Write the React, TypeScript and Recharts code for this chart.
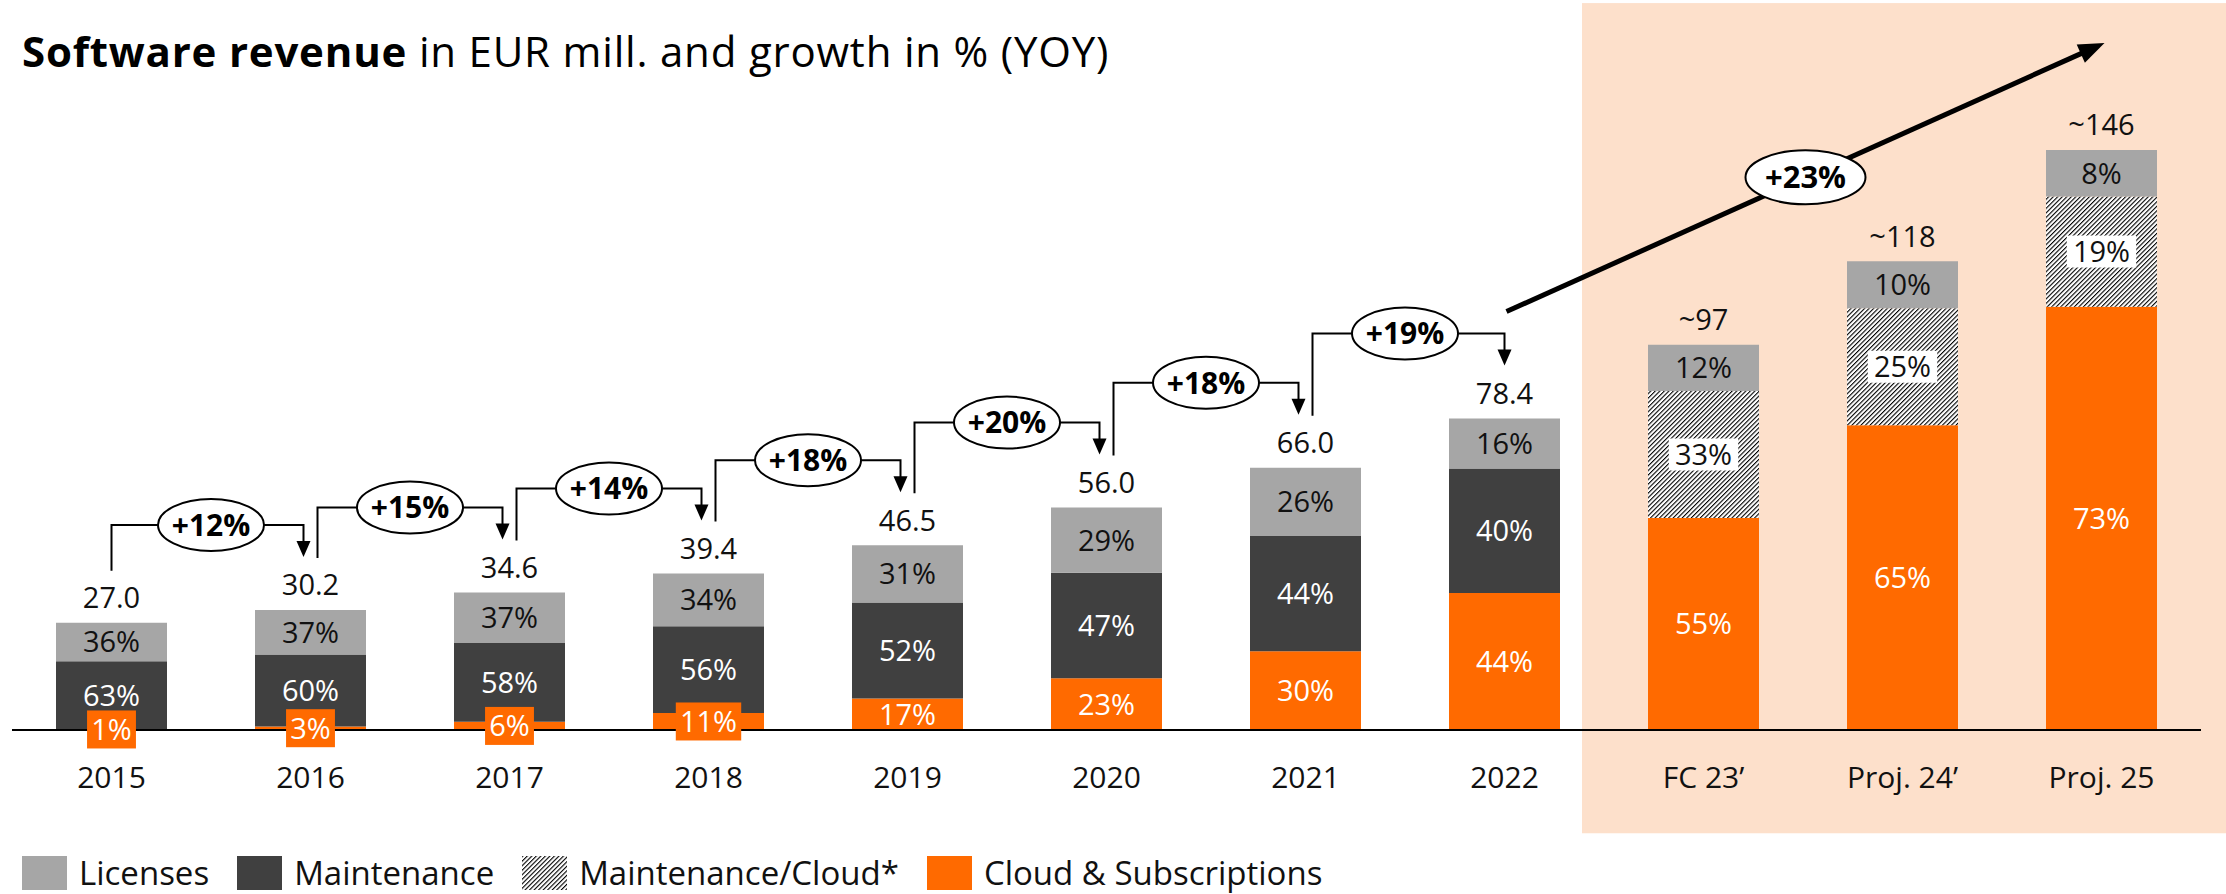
import { ComposedChart, Bar, Line, XAxis, YAxis, ReferenceArea, LabelList, Legend } from "recharts";

const FONT = "'Open Sans', sans-serif";

// categories + values
const categories = ["2015", "2016", "2017", "2018", "2019", "2020", "2021", "2022", "FC 23’", "Proj. 24’", "Proj. 25"];
const totals = [27.0, 30.2, 34.6, 39.4, 46.5, 56.0, 66.0, 78.4, 97, 118, 146];
const totalLabels = ["27.0", "30.2", "34.6", "39.4", "46.5", "56.0", "66.0", "78.4", "~97", "~118", "~146"];
const cloudPct = [1, 3, 6, 11, 17, 23, 30, 44, 55, 65, 73];
const maintenancePct = [63, 60, 58, 56, 52, 47, 44, 40, 0, 0, 0];
const maintCloudPct = [0, 0, 0, 0, 0, 0, 0, 0, 33, 25, 19];
const licensesPct = [36, 37, 37, 34, 31, 29, 26, 16, 12, 10, 8];
const growthLabels = ["+12%", "+15%", "+14%", "+18%", "+20%", "+18%", "+19%"];
const cagrLabel = "+23%";
const cagrFrom = 7;
const cagrTo = 10;

const ORANGE = "#FF6A00";
const DARK = "#404040";
const LIGHT = "#A6A6A6";
const PEACH = "#FDE0CB";

const legendItems = [
  { name: "Licenses", fill: LIGHT },
  { name: "Maintenance", fill: DARK },
  { name: "Maintenance/Cloud*", fill: "url(#hatch)" },
  { name: "Cloud & Subscriptions", fill: ORANGE },
];

// split each total by its shares so the stack ends at the total
const data = categories.map((name, i) => {
  const sum = cloudPct[i] + maintenancePct[i] + maintCloudPct[i] + licensesPct[i];
  const k = totals[i] / sum;
  return {
    name,
    total: totals[i],
    totalLabel: totalLabels[i],
    cloud: cloudPct[i] * k,
    maintenance: maintenancePct[i] * k,
    maintCloud: maintCloudPct[i] * k,
    licenses: licensesPct[i] * k,
    cloudPct: cloudPct[i],
    maintenancePct: maintenancePct[i],
    maintCloudPct: maintCloudPct[i],
    licensesPct: licensesPct[i],
  };
});

const LBL = 29;

function textW(t: string, fs: number) {
  let w = 0;
  for (const c of t) w += c === "%" ? 0.84 : c === "~" ? 0.57 : c === "." ? 0.27 : 0.57;
  return w * fs;
}

function box(p: any) {
  const vb = p.viewBox || {};
  const x = Number(p.x ?? vb.x);
  const y = Number(p.y ?? vb.y);
  const w = Number(p.width ?? vb.width);
  const h = Number(p.height ?? vb.height);
  return { x, y, w, h };
}

const segLabel = (kind: string) => (p: any) => {
  const pct = Number(p.value);
  if (!pct) return null;
  const { x, y, w, h } = box(p);
  const cx = x + w / 2;
  const cy = y + h / 2;
  const t = `${pct}%`;
  const tw = textW(t, LBL);
  let bg = null;
  let fill = "#fff";
  if (kind === "cloud" && h < 28) {
    bg = <rect x={cx - tw / 2 - 4} y={cy - 19} width={tw + 8} height={38} fill={ORANGE} />;
  }
  if (kind === "hatch") {
    bg = <rect x={cx - tw / 2 - 6} y={cy - 16} width={tw + 12} height={32} fill="#fff" />;
    fill = "#111";
  }
  if (kind === "lic") fill = "#111";
  return (
    <g key={`${kind}-${p.index}`}>
      {bg}
      <text x={cx} y={cy} dy="0.36em" textAnchor="middle" fontFamily={FONT} fontSize={LBL} fill={fill}>
        {t}
      </text>
    </g>
  );
};

const totalLabel = (p: any) => {
  const { x, y, w } = box(p);
  return (
    <text key={`tot-${p.index}`} x={x + w / 2} y={y - 25} dy="0.36em" textAnchor="middle" fontFamily={FONT} fontSize={LBL} fill="#111">
      {p.value}
    </text>
  );
};

// growth connectors drawn from the line points (one per bar pair)
function Connector(props: any) {
  const { index, points } = props;
  if (!points || index == null) return <g key={`c-${index}`} />;
  const parts: any[] = [];
  const n = growthLabels.length;
  if (index < n && points[index + 1]) {
    const a = points[index];
    const b = points[index + 1];
    const x0 = a.x + (index > 0 ? 7 : 0);
    const x1 = b.x - (index < n - 1 ? 7 : 0);
    const y0 = a.y - 52;
    const yl = b.y - 85;
    const yt = b.y - 53;
    const ex = (a.x + b.x) / 2;
    parts.push(<path key="p" d={`M${x0},${y0}V${yl}H${x1}V${yt - 14}`} stroke="#000" strokeWidth={2} fill="none" />);
    parts.push(<polygon key="h" points={`${x1 - 7},${yt - 16} ${x1 + 7},${yt - 16} ${x1},${yt}`} fill="#000" />);
    parts.push(<ellipse key="e" cx={ex} cy={yl} rx={53} ry={26} fill="#fff" stroke="#000" strokeWidth={2} />);
    parts.push(
      <text key="t" x={ex} y={yl} dy="0.36em" textAnchor="middle" fontFamily={FONT} fontWeight={700} fontSize={30} fill="#000">
        {growthLabels[index]}
      </text>
    );
  }
  if (index === cagrFrom && points[cagrTo]) {
    const a = points[cagrFrom];
    const b = points[cagrTo];
    const sx = a.x + 2, sy = a.y - 107, ex = b.x + 3, ey = b.y - 107;
    const len = Math.hypot(ex - sx, ey - sy);
    const ux = (ex - sx) / len, uy = (ey - sy) / len;
    const hl = 26, hw = 10;
    const bx = ex - ux * hl, by = ey - uy * hl;
    const mx = (sx + ex) / 2, my = (sy + ey) / 2;
    parts.push(<line key="cl" x1={sx} y1={sy} x2={bx + ux * 2} y2={by + uy * 2} stroke="#000" strokeWidth={5} />);
    parts.push(<polygon key="ch" points={`${ex},${ey} ${bx - uy * hw},${by + ux * hw} ${bx + uy * hw},${by - ux * hw}`} fill="#000" />);
    parts.push(<ellipse key="ce" cx={mx} cy={my} rx={60} ry={27} fill="#fff" stroke="#000" strokeWidth={2} />);
    parts.push(
      <text key="ct" x={mx} y={my} dy="0.36em" textAnchor="middle" fontFamily={FONT} fontWeight={700} fontSize={31} fill="#000">
        {cagrLabel}
      </text>
    );
  }
  return <g key={`c-${index}`}>{parts}</g>;
}

const Panel = (p: any) => {
  const { x, y, width, height } = p;
  return <rect x={x - 22} y={y} width={width + 47} height={height} fill={PEACH} />;
};

const renderLegend = () => (
  <div style={{ display: "flex", alignItems: "center", fontFamily: FONT, fontSize: 33, lineHeight: "34px", color: "#111" }}>
    {legendItems.map((it) => (
      <div key={it.name} style={{ display: "flex", alignItems: "center", marginRight: 28, height: 34 }}>
        <svg width={45} height={34} style={{ marginRight: 12, display: "block" }}>
          <rect width={45} height={34} fill={it.fill} />
        </svg>
        <span>{it.name}</span>
      </div>
    ))}
  </div>
);

export default function App() {
  return (
    <div style={{ position: "relative", width: 2226, height: 894, background: "#fff", overflow: "hidden" }}>
      <style>{`body{margin:0}`}</style>
      <svg width={2226} height={100} style={{ position: "absolute", left: 0, top: 0 }}>
        <defs>
          <pattern id="hatch" patternUnits="userSpaceOnUse" width={3.2} height={3.2} patternTransform="rotate(45)">
            <rect width={3.2} height={3.2} fill="#fff" />
            <line x1={0} y1={0} x2={0} y2={3.2} stroke="#000" strokeWidth={2.2} />
          </pattern>
        </defs>
        <text x={22} y={67} fontFamily={FONT} fontSize={42} letterSpacing={0.8} fill="#000">
          <tspan fontWeight={700}>Software revenue</tspan>
          <tspan> in EUR mill. and growth in % (YOY)</tspan>
        </text>
      </svg>
      <ComposedChart width={2226} height={894} data={data} margin={{ top: 15, right: 25, bottom: 104, left: 12 }}>
        <ReferenceArea x1="FC 23’" x2="Proj. 25" y1={-26} y2={183} ifOverflow="visible" shape={Panel} />
        <XAxis
          dataKey="name"
          interval={0}
          tickLine={false}
          axisLine={{ stroke: "#000", strokeWidth: 2 }}
          tick={{ fontSize: 30, fill: "#111", fontFamily: FONT }}
          tickMargin={31}
          height={60}
        />
        <YAxis hide domain={[0, 180]} />
        <Bar dataKey="cloud" name="Cloud & Subscriptions" stackId="s" fill={ORANGE} barSize={111} isAnimationActive={false}>
          <LabelList dataKey="cloudPct" content={segLabel("cloud")} />
        </Bar>
        <Bar dataKey="maintenance" name="Maintenance" stackId="s" fill={DARK} barSize={111} isAnimationActive={false}>
          <LabelList dataKey="maintenancePct" content={segLabel("dark")} />
        </Bar>
        <Bar dataKey="maintCloud" name="Maintenance/Cloud*" stackId="s" fill="url(#hatch)" barSize={111} isAnimationActive={false}>
          <LabelList dataKey="maintCloudPct" content={segLabel("hatch")} />
        </Bar>
        <Bar dataKey="licenses" name="Licenses" stackId="s" fill={LIGHT} barSize={111} isAnimationActive={false}>
          <LabelList dataKey="licensesPct" content={segLabel("lic")} />
          <LabelList dataKey="totalLabel" content={totalLabel} />
        </Bar>
        <Line dataKey="total" stroke="none" dot={Connector} activeDot={false} legendType="none" isAnimationActive={false} />
        <Legend
          layout="horizontal"
          verticalAlign="middle"
          align="center"
          content={renderLegend}
          wrapperStyle={{ position: "absolute", left: 22, top: 856, width: 1600, height: 34 }}
        />
      </ComposedChart>
    </div>
  );
}
